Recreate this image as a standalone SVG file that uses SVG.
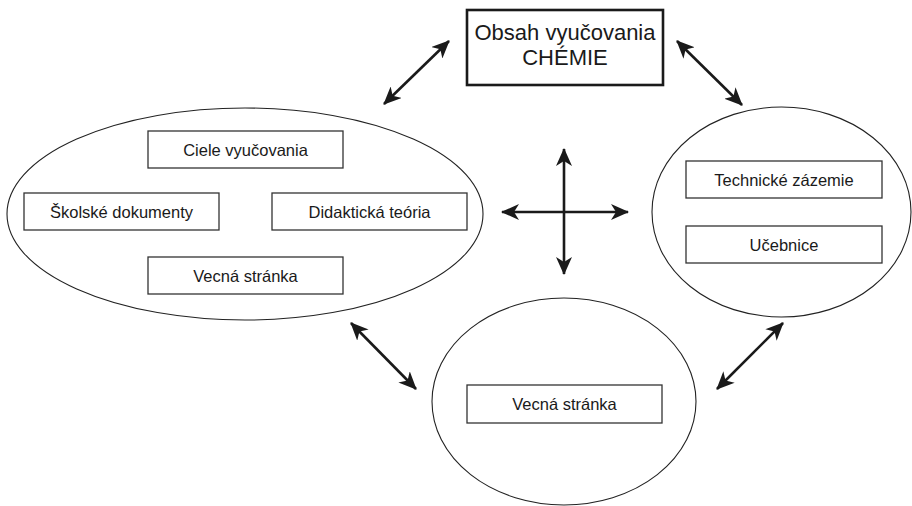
<svg xmlns="http://www.w3.org/2000/svg" width="912" height="506" viewBox="0 0 912 506">
<defs>
<style>
.ell{fill:none;stroke:#222;stroke-width:1.1}
.box{fill:#fff;stroke:#333;stroke-width:1.3}
.main{fill:#fff;stroke:#1a1a1a;stroke-width:2.6}
.lbl{font-family:"Liberation Sans",Arial,sans-serif;font-size:16.5px;fill:#1a1a1a;text-anchor:middle}
.big{font-family:"Liberation Sans",Arial,sans-serif;font-size:22px;fill:#1a1a1a;text-anchor:middle}
.arr{stroke:#1a1a1a;stroke-width:2.6;fill:none;marker-start:url(#ah);marker-end:url(#ah)}
</style>
<marker id="ah" viewBox="0 0 18 16" refX="17" refY="8" markerWidth="18" markerHeight="16" markerUnits="userSpaceOnUse" orient="auto-start-reverse">
<path d="M0,0 L18,8 L0,16 L5,8 Z" fill="#1a1a1a"/>
</marker>
</defs>
<rect width="912" height="506" fill="#fff"/>
<g id="connectors">
<line class="arr" x1="384" y1="104" x2="449" y2="41"/>
<line class="arr" x1="677" y1="41" x2="742" y2="105"/>
<line class="arr" x1="351" y1="323" x2="416" y2="389"/>
<line class="arr" x1="717" y1="389" x2="783" y2="323"/>
<line class="arr" x1="564" y1="149" x2="564" y2="274"/>
<line class="arr" x1="502" y1="212" x2="628" y2="212"/>
</g>
<g id="obsah">
<rect class="main" x="467" y="10" width="196" height="75"/>
<text class="big" x="565" y="40">Obsah vyučovania</text>
<text class="big" x="565" y="65">CHÉMIE</text>
</g>
<g id="left-group">
<ellipse class="ell" cx="245" cy="214" rx="238" ry="106"/>
<g id="ciele"><rect class="box" x="148" y="131" width="195" height="37"/><text class="lbl" x="245.5" y="155.5">Ciele vyučovania</text></g>
<g id="skolske"><rect class="box" x="24" y="193" width="195" height="37"/><text class="lbl" x="121.5" y="217.5">Školské dokumenty</text></g>
<g id="didakticka"><rect class="box" x="272" y="193" width="195" height="37"/><text class="lbl" x="369.5" y="217.5">Didaktická teória</text></g>
<g id="vecna1"><rect class="box" x="148" y="257" width="195" height="37"/><text class="lbl" x="245.5" y="281.5">Vecná stránka</text></g>
</g>
<g id="right-group">
<ellipse class="ell" cx="781.5" cy="212" rx="129.5" ry="105"/>
<g id="technicke"><rect class="box" x="686" y="161" width="196" height="37"/><text class="lbl" x="784" y="185.5">Technické zázemie</text></g>
<g id="ucebnice"><rect class="box" x="686" y="226" width="196" height="37"/><text class="lbl" x="784" y="250.5">Učebnice</text></g>
</g>
<g id="bottom-group">
<ellipse class="ell" cx="564" cy="401.5" rx="132" ry="103.5"/>
<g id="vecna2"><rect class="box" x="467" y="385" width="195" height="38"/><text class="lbl" x="564.5" y="410">Vecná stránka</text></g>
</g>
</svg>
